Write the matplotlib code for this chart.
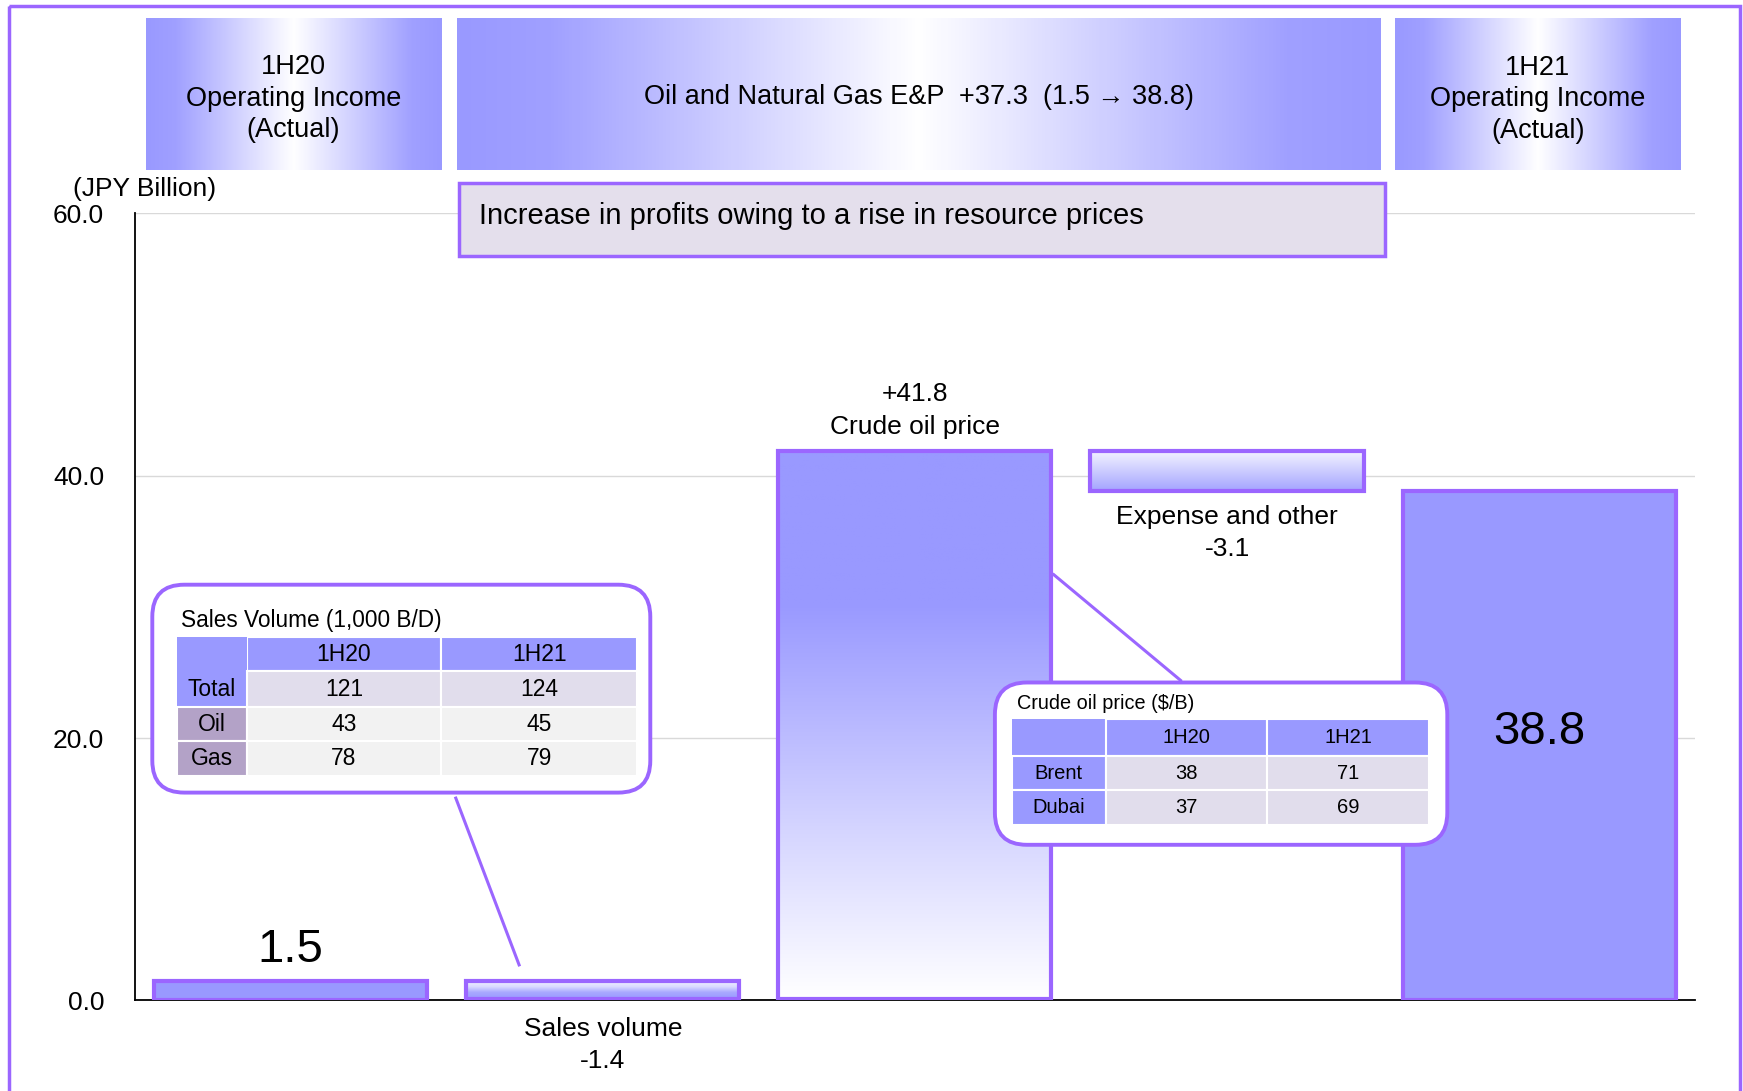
import numpy as np
import matplotlib.pyplot as plt
from matplotlib.patches import Rectangle, FancyBboxPatch
from matplotlib.colors import LinearSegmentedColormap

plt.rcParams['font.family'] = ['Liberation Sans', 'DejaVu Sans']

# waterfall data (JPY billion)
categories = ['1H20 Operating Income', 'Sales volume', 'Crude oil price',
              'Expense and other', '1H21 Operating Income']
changes = [1.5, -1.4, 41.8, -3.1, 38.8]
is_total = [True, False, False, False, True]
yticks = [0, 20, 40, 60]

# callout tables
sales_cols = ['1H20', '1H21']
sales_rows = ['Total', 'Oil', 'Gas']
sales_1h20 = [121, 43, 78]
sales_1h21 = [124, 45, 79]
crude_cols = ['1H20', '1H21']
crude_rows = ['Brent', 'Dubai']
crude_1h20 = [38, 37]
crude_1h21 = [71, 69]

PURPLE = '#9B66FF'
BLUE = '#9999FF'
LAV = '#E1DDEC'
W, H = 1743, 1091

fig = plt.figure(figsize=(W / 100, H / 100), dpi=100)
ax = fig.add_axes([0.0772, 0.0830, 0.8954, 0.7214])

# running totals for the waterfall
running = 0
bottoms, heights = [], []
for v, tot in zip(changes, is_total):
    if tot:
        bottoms.append(0)
        heights.append(v)
        running = v
    else:
        bottoms.append(min(running, running + v))
        heights.append(abs(v))
        running += v

x = np.arange(len(categories))
bars = ax.bar(x, heights, bottom=bottoms, width=0.875, color=BLUE,
              edgecolor=PURPLE, linewidth=3, zorder=3)


def fill_gradient(a, patch, stops):
    patch.set_facecolor('none')
    x0, y0 = patch.get_x(), patch.get_y()
    w, h = patch.get_width(), patch.get_height()
    cmap = LinearSegmentedColormap.from_list('g', stops)
    grad = np.linspace(0, 1, 256).reshape(-1, 1)
    im = a.imshow(grad, extent=(x0, x0 + w, y0, y0 + h), origin='upper',
                  cmap=cmap, aspect='auto', zorder=2.5)
    im.set_clip_path(patch)


fill_gradient(ax, bars[1], [(0, '#F6F6FF'), (0.35, '#DADAFF'), (0.65, '#A8A8FF'), (1, BLUE)])
fill_gradient(ax, bars[2], [(0, BLUE), (0.28, BLUE), (0.7, '#D6D6FF'), (1, '#FFFFFF')])
fill_gradient(ax, bars[3], [(0, '#F4F4FF'), (0.5, '#CDCDFF'), (1, '#A3A3FF')])

ax.set_xlim(-0.5, 4.5)
ax.set_ylim(0, 60)
ax.set_yticks(yticks)
ax.set_yticklabels([f'{t:.1f}' for t in yticks])
ax.set_xticks([])
ax.tick_params(axis='y', length=0, pad=22, labelsize=19)
ax.yaxis.grid(True, color='#D9D9D9', lw=1)
ax.set_axisbelow(True)
for s in ['top', 'right']:
    ax.spines[s].set_visible(False)
ax.spines['left'].set_linewidth(1.3)
ax.spines['bottom'].set_linewidth(1.3)
ax.patch.set_alpha(0)

# bar labels
ax.text(x[0], heights[0] + 2.35, f'{changes[0]:.1f}', ha='center', va='center', fontsize=34)
ax.text(x[4], heights[4] / 2 + 1.05, f'{changes[4]:.1f}', ha='center', va='center', fontsize=34)
ax.text(x[1], bottoms[1] - 1.35, f'Sales volume\n{changes[1]:.1f}', ha='center', va='top',
        fontsize=19, linespacing=1.45)
ax.text(x[2], bottoms[2] + heights[2] + 0.9, f'+{changes[2]:.1f}\nCrude oil price', ha='center',
        va='bottom', fontsize=19, linespacing=1.45)
ax.text(x[3], bottoms[3] - 1.0, f'Expense and other\n{changes[3]:.1f}', ha='center', va='top',
        fontsize=19, linespacing=1.45)

# overlay in pixel coordinates for headers and callouts
ov = fig.add_axes([0, 0, 1, 1])
ov.set_axis_off()

hcmap = LinearSegmentedColormap.from_list('h', [(0, BLUE), (0.1, '#A0A0FF'), (0.5, '#FFFFFF'),
                                               (0.9, '#A0A0FF'), (1, BLUE)])
headers = [(145.6, 441.3, '1H20\nOperating Income\n(Actual)', 98.5),
           (456.9, 1380.6, 'Oil and Natural Gas E&P  +37.3  (1.5 \u2192 38.8)', 97.5),
           (1395.1, 1680.7, '1H21\nOperating Income\n(Actual)', 99.5)]
for x0, x1, txt, ty in headers:
    ov.imshow(np.linspace(0, 1, 256).reshape(1, -1), extent=(x0, x1, 170.1, 18.9),
              cmap=hcmap, aspect='auto', zorder=1)
    ov.text((x0 + x1) / 2, ty, txt, ha='center', va='center', fontsize=19.5, linespacing=1.28, zorder=2)

ov.add_patch(Rectangle((459.1, 183.4), 925.9, 72.3, facecolor='#E4DFEC', edgecolor=PURPLE, lw=2.5))
ov.text(479, 216, 'Increase in profits owing to a rise in resource prices', ha='left',
        va='center', fontsize=21)
ov.text(144.5, 189, '(JPY Billion)', ha='center', va='center', fontsize=19)

# connector lines
ov.plot([455.8, 519.1], [798.1, 964.9], color=PURPLE, lw=2.2)
ov.plot([1053.8, 1180.5], [574.7, 680.3], color=PURPLE, lw=2.2)


def draw_table(cols_x, rows_y, col_names, row_names, v1, v2, row_fill, label_fill, fs, merge_corner):
    ov.add_patch(Rectangle((cols_x[0], rows_y[0]), cols_x[3] - cols_x[0], rows_y[1] - rows_y[0],
                           facecolor=BLUE, edgecolor='none', zorder=4))
    for j in range(2):
        ov.add_patch(Rectangle((cols_x[j + 1], rows_y[0]), cols_x[j + 2] - cols_x[j + 1],
                               rows_y[1] - rows_y[0], facecolor=BLUE, edgecolor='white', lw=1.5, zorder=4))
        ov.text((cols_x[j + 1] + cols_x[j + 2]) / 2, (rows_y[0] + rows_y[1]) / 2, col_names[j],
                ha='center', va='center', fontsize=fs, zorder=5)
    for i, name in enumerate(row_names):
        ya, yb = rows_y[i + 1], rows_y[i + 2]
        if merge_corner and i == 0:
            ov.add_patch(Rectangle((cols_x[0], rows_y[0]), cols_x[1] - cols_x[0], yb - rows_y[0],
                                   facecolor=label_fill[i], edgecolor='none', zorder=4))
        else:
            ov.add_patch(Rectangle((cols_x[0], ya), cols_x[1] - cols_x[0], yb - ya,
                                   facecolor=label_fill[i], edgecolor='white', lw=1.5, zorder=4))
        ov.text((cols_x[0] + cols_x[1]) / 2, (ya + yb) / 2, name, ha='center', va='center',
                fontsize=fs, zorder=5)
        for j, vals in enumerate([v1, v2]):
            ov.add_patch(Rectangle((cols_x[j + 1], ya), cols_x[j + 2] - cols_x[j + 1], yb - ya,
                                   facecolor=row_fill[i], edgecolor='white', lw=1.5, zorder=4))
            ov.text((cols_x[j + 1] + cols_x[j + 2]) / 2, (ya + yb) / 2, str(vals[i]),
                    ha='center', va='center', fontsize=fs, zorder=5)


# sales volume callout
ov.add_patch(FancyBboxPatch((152.3, 584.7), 498.0, 207.9, boxstyle='round,pad=0,rounding_size=32',
                            facecolor='white', edgecolor=PURPLE, lw=2.8, zorder=3))
ov.text(181.2, 621, 'Sales Volume (1,000 B/D)', ha='left', va='center', fontsize=16.3, zorder=5)
draw_table([176.7, 246.8, 441.3, 637.0], [637.0, 671.4, 707.0, 741.4, 775.9], sales_cols, sales_rows,
           sales_1h20, sales_1h21, [LAV, '#F2F2F2', '#F2F2F2'], [BLUE, '#B3A2C7', '#B3A2C7'], 16.5, True)

# crude oil price callout
ov.add_patch(FancyBboxPatch((994.9, 682.5), 452.4, 162.3, boxstyle='round,pad=0,rounding_size=32',
                            facecolor='white', edgecolor=PURPLE, lw=2.8, zorder=3))
ov.text(1017, 703.5, 'Crude oil price ($/B)', ha='left', va='center', fontsize=14.3, zorder=5)
draw_table([1011.6, 1106.0, 1267.3, 1429.5], [719.2, 755.9, 790.4, 824.8], crude_cols, crude_rows,
           crude_1h20, crude_1h21, [LAV, LAV], [BLUE, BLUE], 14.5, False)

# outer frame
ov.add_patch(Rectangle((8.9, 5.6), 1730.8, 1100, facecolor='none', edgecolor=PURPLE, lw=2.5,
                       clip_on=False))

ov.set_xlim(0, W)
ov.set_ylim(H, 0)

fig.savefig('out.png', dpi=100)
